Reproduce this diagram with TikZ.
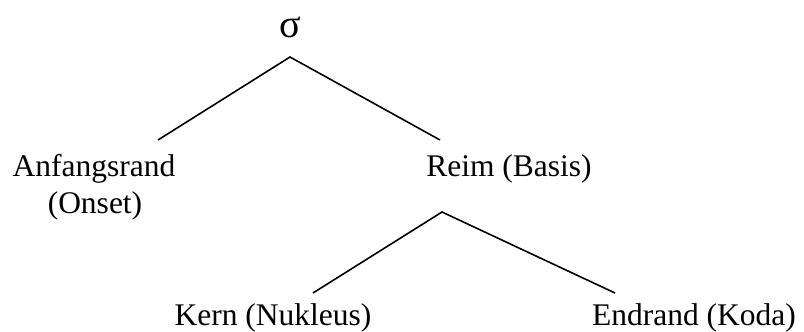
\documentclass[tikz,border=0pt]{standalone}
\usepackage{fontspec}
\setmainfont{Liberation Serif}
\begin{document}
\begin{tikzpicture}[x=1pt,y=-1pt,
  lbl/.style={inner sep=0pt,anchor=base,font=\fontsize{31.5}{36}\selectfont},
  branch/.style={line width=1.6pt}]
\useasboundingbox (0,0) rectangle (804,332);
\node[lbl,font=\fontsize{40}{44}\selectfont] (sigma) at (290,37) {σ};
\node[lbl] (onset) at (94,176) {Anfangsrand};
\node[lbl] (onset2) at (95,213) {(Onset)};
\node[lbl] (rhyme) at (509,176) {Reim (Basis)};
\node[lbl] (nucleus) at (273,325) {Kern (Nukleus)};
\node[lbl] (coda) at (694,325) {Endrand (Koda)};
\coordinate (s) at (290,57);
\coordinate (sl) at (158,140);
\coordinate (sr) at (440,140);
\coordinate (r) at (442,212);
\coordinate (rl) at (313,293);
\coordinate (rr) at (615,293);
\draw[branch] (sl) -- (s) -- (sr);
\draw[branch] (rl) -- (r) -- (rr);
\end{tikzpicture}
\end{document}
